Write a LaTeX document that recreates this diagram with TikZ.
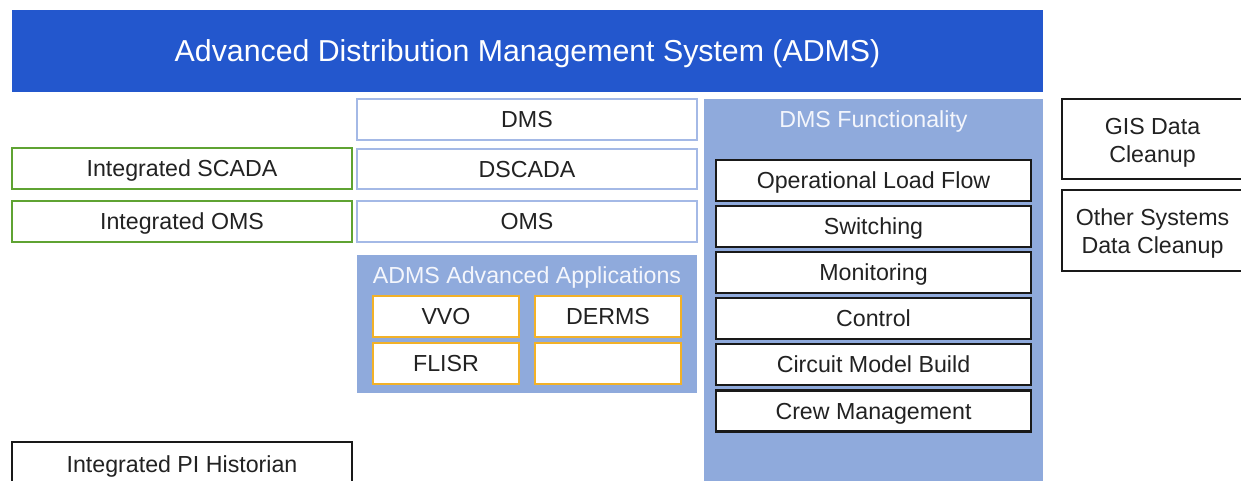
\documentclass[tikz,border=0pt]{standalone}
\usepackage{fontspec}
\setmainfont{Liberation Sans}
\definecolor{titleblue}{HTML}{2357CD}
\definecolor{panelblue}{HTML}{8FAADC}
\definecolor{lightedge}{HTML}{A4B9E6}
\definecolor{greenedge}{HTML}{5FA332}
\definecolor{orangeedge}{HTML}{F2B128}
\definecolor{txt}{HTML}{222222}
\definecolor{paneltxt}{HTML}{F4F6FC}
\tikzset{
  bodyfont/.style={font=\fontsize{23.2}{28}\selectfont},
  capcenter/.style={text height=16.6pt,text depth=0pt},
  basebox/.style={rectangle,inner sep=0pt,fill=white,text=txt,bodyfont,align=center},
  onebox/.style={basebox,capcenter},
  greenbox/.style={onebox,draw=greenedge,line width=1.8pt,minimum width=340pt,minimum height=41pt},
  bluebox/.style={onebox,draw=lightedge,line width=1.6pt,minimum width=340pt,minimum height=41pt},
  appbox/.style={onebox,draw=orangeedge,line width=1.8pt,minimum width=146pt,minimum height=41pt},
  funcbox/.style={onebox,draw=black!90,line width=2.2pt,minimum width=315pt,minimum height=41pt},
  blackbox/.style={basebox,draw=black!90,line width=1.8pt},
  twotext/.style={text=txt,bodyfont,align=center,inner sep=0pt,yshift=-3.5pt},
  paneltitle/.style={text=paneltxt,bodyfont,inner sep=0pt,capcenter},
}
\begin{document}
\begin{tikzpicture}[x=1pt,y=-1pt]
\useasboundingbox (0,0) rectangle (1241,481);
\clip (0,0) rectangle (1241,481);
\fill[white] (0,0) rectangle (1241,481);
% title bar
\node[rectangle,fill=titleblue,minimum width=1031pt,minimum height=82pt,inner sep=0pt,text=white,font=\fontsize{30.3}{34}\selectfont,text height=21.7pt,text depth=0pt] (title) at (527.5,51) {Advanced Distribution Management System (ADMS)};
% left column
\node[greenbox] (iscada) at (182,168.5) {Integrated SCADA};
\node[greenbox] (ioms) at (182,221.5) {Integrated OMS};
\node[onebox,draw=black!90,line width=1.8pt,minimum width=340pt,minimum height=44pt] (pi) at (182,464) {Integrated PI Historian};
% middle column
\node[bluebox] (dms) at (527,119.5) {DMS};
\node[bluebox,minimum height=40pt] (dscada) at (527,169) {DSCADA};
\node[bluebox] (oms) at (527,221.5) {OMS};
\node[rectangle,fill=panelblue,minimum width=340pt,minimum height=138pt,inner sep=0pt] (advpanel) at (527,324) {};
\node[paneltitle] (advtitle) at (527,275) {ADMS Advanced Applications};
\node[appbox] (vvo) at (446,316.5) {VVO};
\node[appbox] (derms) at (608,316.5) {DERMS};
\node[appbox] (flisr) at (446,363.5) {FLISR};
\node[appbox] (empty) at (608,363.5) {};
% DMS functionality column
\node[rectangle,fill=panelblue,minimum width=339pt,minimum height=391pt,inner sep=0pt] (funcpanel) at (873.5,294.5) {};
\node[paneltitle] (functitle) at (873.5,119) {DMS Functionality};
\node[funcbox] (olf) at (873.5,180.5) {Operational Load Flow};
\node[funcbox] (sw) at (873.5,226.5) {Switching};
\node[funcbox] (mon) at (873.5,272.5) {Monitoring};
\node[funcbox] (ctl) at (873.5,318.5) {Control};
\node[funcbox] (cmb) at (873.5,364.5) {Circuit Model Build};
\node[funcbox] (crew) at (873.5,411) {Crew Management};
% right column
\node[blackbox,minimum width=181pt,minimum height=80pt,label={[twotext]center:GIS Data\\Cleanup}] (gis) at (1152.5,139) {};
\node[blackbox,minimum width=181pt,minimum height=81pt,label={[twotext]center:Other Systems\\Data Cleanup}] (other) at (1152.5,230.5) {};
\end{tikzpicture}
\end{document}
